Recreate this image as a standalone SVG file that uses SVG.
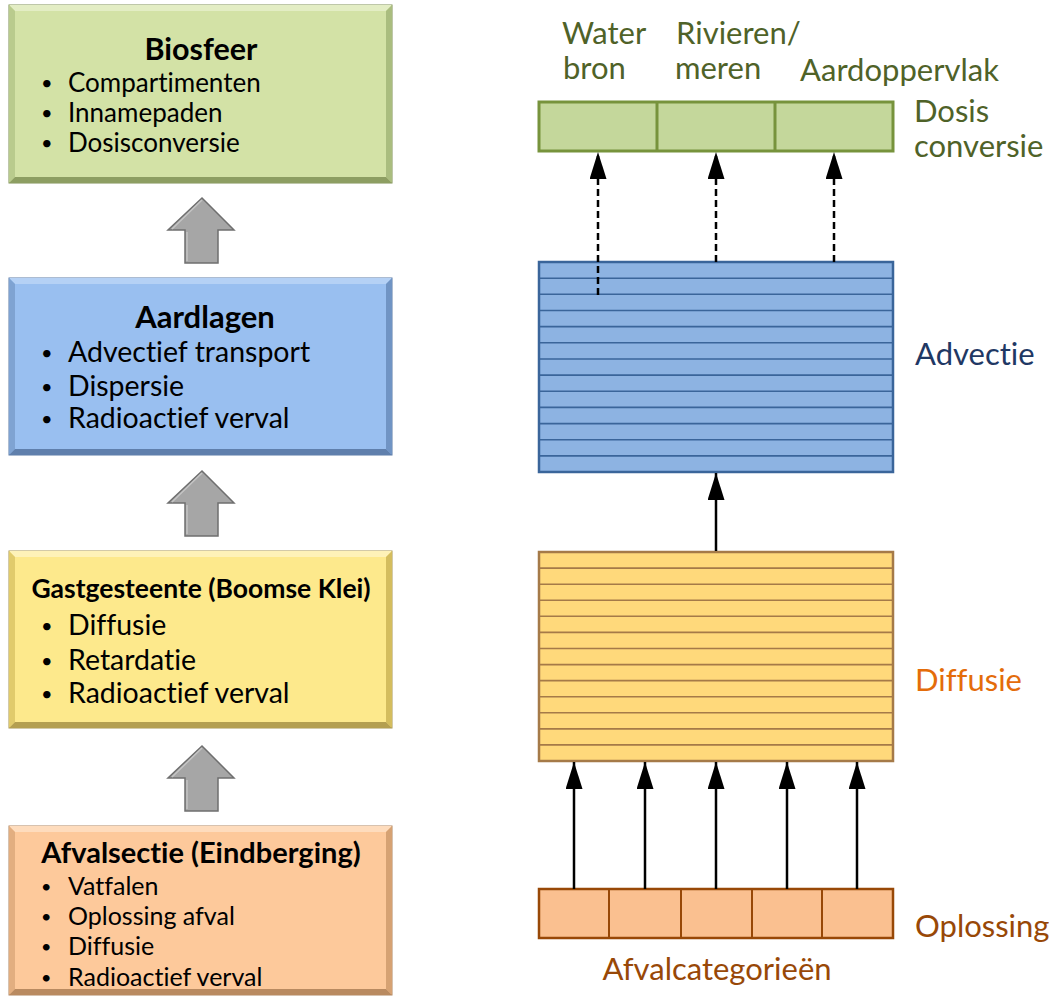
<svg xmlns="http://www.w3.org/2000/svg" width="1051" height="997" viewBox="0 0 1051 997">
<defs>
<style>
.t{font-family:Lato,"Open Sans","Liberation Sans",sans-serif;fill:#000;font-variant-ligatures:none}
.b{font-size:26px}
.h{font-size:30.5px;font-weight:bold;text-anchor:middle}
.d{font-size:20px}
.lab{font-family:Lato,"Open Sans","Liberation Sans",sans-serif;font-size:31px;font-variant-ligatures:none}
.g{fill:#4f6228}
.bl{fill:#1f3864}
.o{fill:#e46c0a}
.br{fill:#984807}
.ga{fill:#a6a6a6;stroke:#6f6f6f;stroke-width:1.5}
.gl{fill:none;stroke:#c4c4c4;stroke-width:1.5}
.conn{stroke:#000;stroke-width:2.5;fill:none}
.dash{stroke-dasharray:7 4}
.stripeB{stroke:#3a659a;stroke-width:1.6}
.stripeY{stroke:#a57a48;stroke-width:1.6}
</style>
<marker id="ah2" viewBox="0 0 27 17" refX="27" refY="8.5" markerWidth="27" markerHeight="17" markerUnits="userSpaceOnUse" orient="auto">
<path d="M0,0 L27,8.5 L0,17 Z" fill="#000"/>
</marker>
</defs>
<rect width="1051" height="997" fill="#fff"/>

<!-- Left stack -->
<g id="biosfeer">
<rect x="9" y="5" width="383" height="178" fill="#d3e2a6" stroke="#7e8f55" stroke-width="1"/>
<polygon points="9,5 392,5 386,11 15,11" fill="#e3edc4"/>
<polygon points="9,5 15,11 15,177 9,183" fill="#b9cb8d"/>
<polygon points="392,5 386,11 386,177 392,183" fill="#aabd7f"/>
<polygon points="9,183 15,177 386,177 392,183" fill="#8d9e62"/>
<text class="t h" x="201" y="60">Biosfeer</text>
<text class="t d" x="41" y="90">•</text><text class="t b" x="68" y="92">Compartimenten</text>
<text class="t d" x="41" y="120">•</text><text class="t b" x="68" y="122">Innamepaden</text>
<text class="t d" x="41" y="150">•</text><text class="t b" x="68" y="152">Dosisconversie</text>
</g>

<g id="arrow1"><path class="ga" d="M202,198 L234,230 L218,230 L218,263 L185,263 L185,230 L168,230 Z"/><path class="gl" d="M172,229 L202,200 M187,232 L187,261"/></g>

<g id="aardlagen">
<rect x="9" y="278" width="383" height="177" fill="#99bff0" stroke="#5a7aa6" stroke-width="1"/>
<polygon points="9,278 392,278 386,284 15,284" fill="#b5d1f5"/>
<polygon points="9,278 15,284 15,449 9,455" fill="#7fa3d2"/>
<polygon points="392,278 386,284 386,449 392,455" fill="#7094c4"/>
<polygon points="9,455 15,449 386,449 392,455" fill="#5f7fac"/>
<text class="t h" x="205" y="328" style="font-size:31px">Aardlagen</text>
<text class="t d" x="41" y="360">•</text><text class="t b" x="68" y="362" style="font-size:28.5px">Advectief transport</text>
<text class="t d" x="41" y="394">•</text><text class="t b" x="68" y="396" style="font-size:28.5px">Dispersie</text>
<text class="t d" x="41" y="426">•</text><text class="t b" x="68" y="428" style="font-size:28.5px">Radioactief verval</text>
</g>

<g id="arrow2"><path class="ga" d="M202,471 L234,503 L218,503 L218,536 L185,536 L185,503 L168,503 Z"/><path class="gl" d="M172,502 L202,473 M187,505 L187,534"/></g>

<g id="gastgesteente">
<rect x="9" y="551" width="383" height="177" fill="#fde98c" stroke="#a89552" stroke-width="1"/>
<polygon points="9,551 392,551 386,557 15,557" fill="#fef2b8"/>
<polygon points="9,551 15,557 15,722 9,728" fill="#e1cb6c"/>
<polygon points="392,551 386,557 386,722 392,728" fill="#d4bd5e"/>
<polygon points="9,728 15,722 386,722 392,728" fill="#b49f50"/>
<text class="t h" x="201" y="598" style="font-size:26.5px">Gastgesteente (Boomse Klei)</text>
<text class="t d" x="41" y="633">•</text><text class="t b" x="68" y="635" style="font-size:28.5px">Diffusie</text>
<text class="t d" x="41" y="668">•</text><text class="t b" x="68" y="670" style="font-size:28.5px">Retardatie</text>
<text class="t d" x="41" y="701">•</text><text class="t b" x="68" y="703" style="font-size:28.5px">Radioactief verval</text>
</g>

<g id="arrow3"><path class="ga" d="M202,746 L234,778 L218,778 L218,811 L185,811 L185,778 L168,778 Z"/><path class="gl" d="M172,777 L202,748 M187,780 L187,809"/></g>

<g id="afvalsectie">
<rect x="9" y="826" width="383" height="169" fill="#fdc99b" stroke="#b08560" stroke-width="1"/>
<polygon points="9,826 392,826 386,832 15,832" fill="#fedcbd"/>
<polygon points="9,826 15,832 15,989 9,995" fill="#e2ae80"/>
<polygon points="392,826 386,832 386,989 392,995" fill="#d6a273"/>
<polygon points="9,995 15,989 386,989 392,995" fill="#b98a60"/>
<text class="t h" x="201" y="863" style="font-size:29px">Afvalsectie (Eindberging)</text>
<text class="t d" x="41" y="893" style="font-size:18px">•</text><text class="t b" x="68" y="895" style="font-size:25px">Vatfalen</text>
<text class="t d" x="41" y="923" style="font-size:18px">•</text><text class="t b" x="68" y="925" style="font-size:25px">Oplossing afval</text>
<text class="t d" x="41" y="953" style="font-size:18px">•</text><text class="t b" x="68" y="955" style="font-size:25px">Diffusie</text>
<text class="t d" x="41" y="984" style="font-size:18px">•</text><text class="t b" x="68" y="986" style="font-size:25px">Radioactief verval</text>
</g>

<!-- Right model -->
<g id="dosis">
<rect x="539" y="102" width="354" height="49" fill="#c4d79b" stroke="#77933c" stroke-width="3"/>
<line x1="657" y1="102" x2="657" y2="151" stroke="#77933c" stroke-width="3"/>
<line x1="775" y1="102" x2="775" y2="151" stroke="#77933c" stroke-width="3"/>
</g>

<g id="advectie">
<rect x="539" y="262" width="354" height="210" fill="#8db3e2" stroke="#3a659a" stroke-width="2.5"/>
<path class="stripeB" d="M539,278.2H893M539,294.3H893M539,310.5H893M539,326.6H893M539,342.8H893M539,359H893M539,375.1H893M539,391.3H893M539,407.4H893M539,423.6H893M539,439.8H893M539,455.9H893"/>
</g>

<g id="diffusie">
<rect x="539" y="552" width="354" height="209" fill="#ffd97b" stroke="#a57a48" stroke-width="2.5"/>
<path class="stripeY" d="M539,568.1H893M539,584.2H893M539,600.2H893M539,616.3H893M539,632.4H893M539,648.5H893M539,664.6H893M539,680.6H893M539,696.7H893M539,712.8H893M539,728.9H893M539,744.9H893"/>
</g>

<g id="oplossing">
<rect x="539" y="889" width="354" height="49" fill="#fac090" stroke="#984807" stroke-width="2.5"/>
<path d="M609,889V938M681,889V938M752,889V938M822,889V938" stroke="#984807" stroke-width="2"/>
</g>

<g id="connectors">
<line class="conn dash" x1="598" y1="295" x2="598" y2="152" marker-end="url(#ah2)"/>
<line class="conn dash" x1="716" y1="262" x2="716" y2="152" marker-end="url(#ah2)"/>
<line class="conn dash" x1="834" y1="262" x2="834" y2="152" marker-end="url(#ah2)"/>
<line class="conn" x1="716" y1="551" x2="716" y2="473" marker-end="url(#ah2)"/>
<line class="conn" x1="574" y1="889" x2="574" y2="762" marker-end="url(#ah2)"/>
<line class="conn" x1="645" y1="889" x2="645" y2="762" marker-end="url(#ah2)"/>
<line class="conn" x1="716" y1="889" x2="716" y2="762" marker-end="url(#ah2)"/>
<line class="conn" x1="787" y1="889" x2="787" y2="762" marker-end="url(#ah2)"/>
<line class="conn" x1="857" y1="889" x2="857" y2="762" marker-end="url(#ah2)"/>
</g>

<g id="labels">
<text class="lab g" x="562" y="44">Water<tspan x="563" dy="35">bron</tspan></text>
<text class="lab g" x="676" y="44">Rivieren/<tspan x="675" dy="35">meren</tspan></text>
<text class="lab g" x="800" y="81">Aardoppervlak</text>
<text class="lab g" x="914" y="122">Dosis<tspan x="914" dy="35">conversie</tspan></text>
<text class="lab bl" x="915" y="365">Advectie</text>
<text class="lab o" x="915" y="691">Diffusie</text>
<text class="lab br" x="915" y="937">Oplossing</text>
<text class="lab br" x="717" y="980" text-anchor="middle">Afvalcategorieën</text>
</g>
</svg>
